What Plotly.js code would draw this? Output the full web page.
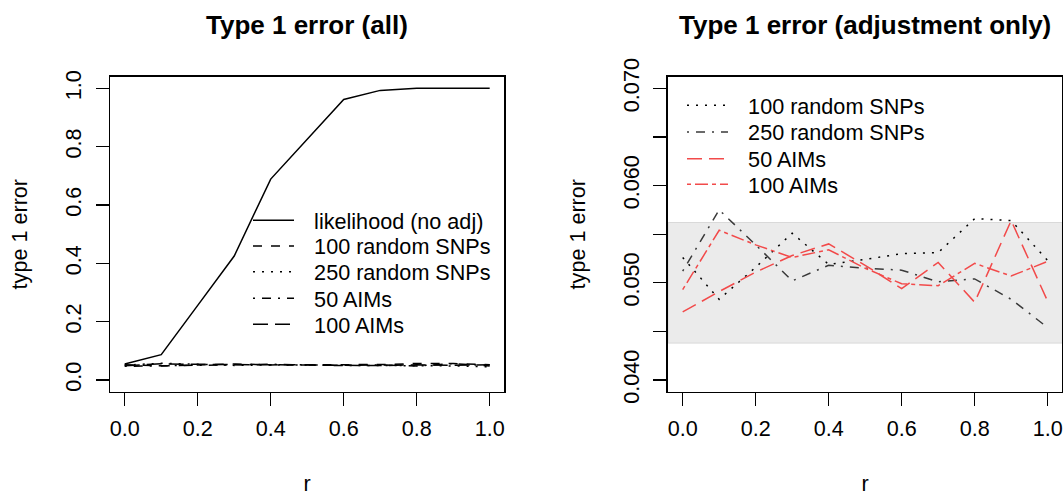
<!DOCTYPE html>
<html>
<head>
<meta charset="utf-8">
<script src="https://cdn.plot.ly/plotly-3.0.1.min.js"></script>
<style>
  html, body { margin: 0; padding: 0; background: #ffffff; }
  #chart { width: 1063px; height: 496px; }
</style>
</head>
<body>
<div id="chart"></div>
<script>
// Correlation r between the simulated populations
const r = [0.0, 0.1, 0.2, 0.3, 0.4, 0.5, 0.6, 0.7, 0.8, 0.9, 1.0];

// Type 1 error rates
const likelihoodNoAdj = [0.055, 0.087, 0.256, 0.425, 0.689, 0.825, 0.962, 0.993, 1.000, 1.000, 1.000];
const snp100  = [0.0526, 0.0483, 0.0516, 0.0551, 0.0519, 0.0524, 0.0530, 0.0531, 0.0566, 0.0564, 0.0523];
const snp250  = [0.0512, 0.0575, 0.0539, 0.0502, 0.0518, 0.0515, 0.0513, 0.0501, 0.0504, 0.0483, 0.0454];
const aims50  = [0.0470, 0.0491, 0.0511, 0.0528, 0.0540, 0.0518, 0.0494, 0.0521, 0.0480, 0.0564, 0.0481];
const aims100 = [0.0493, 0.0554, 0.0539, 0.0526, 0.0534, 0.0515, 0.0499, 0.0497, 0.0520, 0.0507, 0.0522];

// Acceptance band around the nominal 0.05 level
const bandLow = 0.0438;
const bandHigh = 0.0562;

// Tick labels
const xTickVals = [0.0, 0.2, 0.4, 0.6, 0.8, 1.0];
const xTickText = ['0.0', '0.2', '0.4', '0.6', '0.8', '1.0'];
const leftTickVals = [0.0, 0.2, 0.4, 0.6, 0.8, 1.0];
const leftTickText = ['0.0', '0.2', '0.4', '0.6', '0.8', '1.0'];
const rightTickVals = [0.040, 0.045, 0.050, 0.055, 0.060, 0.065, 0.070];
const rightTickText = ['0.040', '', '0.050', '', '0.060', '', '0.070'];

const FONT = 'Liberation Sans, Arial, Helvetica, sans-serif';
const BASE = 21.6;
const RED = '#f24a4a';

// R-style line types
const LTY = {
  dashed: '9px,9px',
  dotted: '2px,7px',
  dotdash: '2px,7px,9px,7px',
  longdash: '15px,7px',
  twodash: '4px,4px,13px,4px'
};

// gap between a legend line sample and its label (en space + thin space)
const LEGEND_GAP = '\u2002\u2009';

function series(y, name, color, dash, xa, ya, legend) {
  return {
    x: r, y: y, name: LEGEND_GAP + name, type: 'scatter', mode: 'lines',
    xaxis: xa, yaxis: ya, legend: legend,
    line: { color: color, width: 1.5, dash: dash },
    hoverinfo: 'skip'
  };
}

const traces = [
  // left panel
  series(likelihoodNoAdj, 'likelihood (no adj)', '#000000', 'solid', 'x', 'y', 'legend'),
  series(snp100, '100 random SNPs', '#000000', LTY.dashed, 'x', 'y', 'legend2'),
  series(snp250, '250 random SNPs', '#000000', LTY.dotted, 'x', 'y', 'legend3'),
  series(aims50, '50 AIMs', '#000000', LTY.dotdash, 'x', 'y', 'legend4'),
  series(aims100, '100 AIMs', '#000000', LTY.longdash, 'x', 'y', 'legend5'),
  // right panel
  series(snp100, '100 random SNPs', '#000000', LTY.dotted, 'x2', 'y2', 'legend6'),
  series(snp250, '250 random SNPs', '#3a3a3a', LTY.dotdash, 'x2', 'y2', 'legend7'),
  series(aims50, '50 AIMs', RED, LTY.longdash, 'x2', 'y2', 'legend8'),
  series(aims100, '100 AIMs', RED, LTY.twodash, 'x2', 'y2', 'legend9')
];

const axisBase = {
  showline: true, linecolor: '#000000', linewidth: 1.6, mirror: true,
  ticks: 'outside', ticklen: 13, tickwidth: 1.3, tickcolor: '#000000',
  showgrid: false, zeroline: false, fixedrange: true,
  tickfont: { family: FONT, size: BASE, color: '#000000' }
};

function xAxis(domain, anchor) {
  return Object.assign({}, axisBase, {
    domain: domain, anchor: anchor, range: [-0.04, 1.04],
    tickmode: 'array', tickvals: xTickVals, ticktext: xTickText,
    ticklabelstandoff: 4,
    title: { text: 'r', font: { family: FONT, size: BASE, color: '#000000' }, standoff: 35 }
  });
}

function yAxis(anchor, range, vals, text) {
  return Object.assign({}, axisBase, {
    domain: [0.2103, 0.8454], anchor: anchor, range: range,
    tickmode: 'array', tickvals: vals, ticktext: text, tickangle: -90,
    ticklabelstandoff: 6,
    title: { text: 'type 1 error', font: { family: FONT, size: BASE, color: '#000000' }, standoff: 27 }
  });
}

// One legend block per entry so the rows sit at the R legend spacing;
// lineLeft is where the line sample starts, rowCenter the row's middle
const ITEM_W = 41;
function legendAt(lineLeft, rowCenter) {
  return {
    xref: 'paper', yref: 'paper', xanchor: 'left', yanchor: 'top',
    x: (lineLeft - 5) / 1063, y: 1 - (rowCenter - 19.5) / 496,
    itemwidth: ITEM_W,
    bgcolor: 'rgba(0,0,0,0)', borderwidth: 0, tracegroupgap: 0,
    font: { family: FONT, size: BASE, color: '#000000' }
  };
}

const layout = {
  width: 1063, height: 496,
  margin: { l: 0, r: 0, t: 0, b: 0 },
  paper_bgcolor: '#ffffff', plot_bgcolor: '#ffffff',
  showlegend: true,
  font: { family: FONT, size: BASE, color: '#000000' },
  xaxis: xAxis([0.1036, 0.4744], 'y'),
  yaxis: yAxis('x', [-0.04, 1.04], leftTickVals, leftTickText),
  xaxis2: xAxis([0.6285, 0.9993], 'y2'),
  yaxis2: yAxis('x2', [0.0388, 0.0712], rightTickVals, rightTickText),
  legend:  legendAt(253, 219.3),
  legend2: legendAt(253, 245.0),
  legend3: legendAt(253, 270.7),
  legend4: legendAt(253, 297.3),
  legend5: legendAt(253, 323.3),
  legend6: legendAt(687, 104.3),
  legend7: legendAt(687, 131.0),
  legend8: legendAt(687, 157.7),
  legend9: legendAt(687, 183.3),
  shapes: [{
    type: 'rect', xref: 'x2 domain', x0: 0, x1: 1, yref: 'y2', y0: bandLow, y1: bandHigh,
    fillcolor: '#ebebeb', line: { color: '#d9d9d9', width: 1 }, layer: 'below'
  }],
  annotations: [
    { xref: 'x domain', x: 0.5, yref: 'paper', y: 1 - 25 / 496, xanchor: 'center', yanchor: 'middle',
      text: '<b>Type 1 error (all)</b>', showarrow: false,
      font: { family: FONT, size: 26, color: '#000000' } },
    { xref: 'x2 domain', x: 0.5, yref: 'paper', y: 1 - 25 / 496, xanchor: 'center', yanchor: 'middle',
      text: '<b>Type 1 error (adjustment only)</b>', showarrow: false,
      font: { family: FONT, size: 26, color: '#000000' } }
  ]
};

Plotly.newPlot('chart', traces, layout, { staticPlot: true, displayModeBar: false });
</script>
</body>
</html>
